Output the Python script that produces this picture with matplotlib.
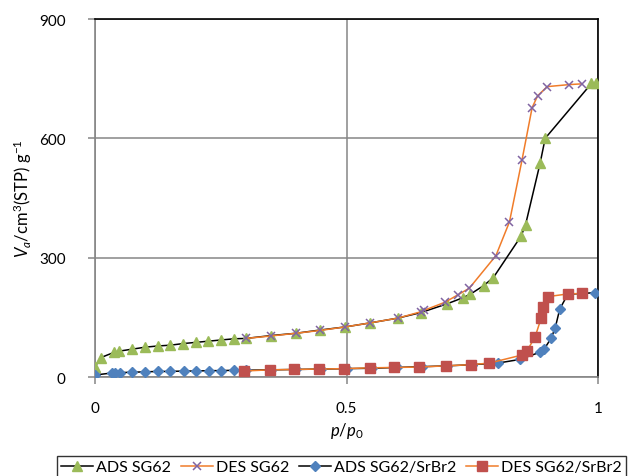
import matplotlib
matplotlib.use("Agg")
import matplotlib.pyplot as plt

plt.rcParams['font.family'] = ['Lato', 'DejaVu Sans']
plt.rcParams['mathtext.fontset'] = 'custom'
plt.rcParams['mathtext.rm'] = 'Lato'
plt.rcParams['mathtext.it'] = 'Lato:italic'

# ADS SG62
ads_x = [0.0, 0.012, 0.038, 0.048, 0.074, 0.1, 0.125, 0.15, 0.175, 0.2, 0.225, 0.25, 0.276,
         0.3, 0.349, 0.4, 0.447, 0.498, 0.547, 0.602, 0.648, 0.7, 0.731, 0.746, 0.773, 0.792,
         0.847, 0.856, 0.885, 0.895, 0.987, 0.996]
ads_y = [26, 49, 62, 65, 70, 75, 78, 80, 84, 87, 90, 93, 96,
         97, 104, 110, 118, 126, 136, 148, 162, 184, 199, 208, 230, 250,
         354, 383, 538, 600, 738, 740]

# DES SG62
des_x = [0.968, 0.942, 0.899, 0.88, 0.869, 0.849, 0.824, 0.797, 0.744, 0.722, 0.696, 0.655,
         0.648, 0.602, 0.547, 0.498, 0.447, 0.4, 0.349, 0.3]
des_y = [737, 735, 730, 707, 677, 546, 390, 305, 223, 207, 188, 168,
         164, 148, 136, 126, 117, 110, 103, 97]

# ADS SG62/SrBr2
ads2_x = [0.0, 0.033, 0.04, 0.05, 0.074, 0.1, 0.125, 0.15, 0.176, 0.2, 0.226, 0.25, 0.277,
          0.3, 0.35, 0.4, 0.45, 0.5, 0.55, 0.6, 0.65, 0.7, 0.75, 0.801, 0.844, 0.884, 0.893,
          0.907, 0.915, 0.924, 0.94, 0.994]
ads2_y = [5, 10, 10, 11, 12, 13, 14, 14, 15, 15, 16, 16, 17,
          17, 18, 19, 20, 21, 22, 24, 26, 28, 31, 35, 44, 62, 70,
          98, 124, 171, 208, 212]

# DES SG62/SrBr2
des2_x = [0.969, 0.941, 0.9, 0.891, 0.887, 0.875, 0.859, 0.848, 0.784, 0.748, 0.697, 0.645,
          0.595, 0.546, 0.495, 0.445, 0.396, 0.347, 0.296]
des2_y = [210, 209, 202, 175, 148, 101, 66, 55, 35, 31, 28, 25,
          24, 23, 21, 20, 19, 18, 15]

fig = plt.figure(figsize=(6.36, 4.77), dpi=100)
ax = fig.add_axes([95/636, 1-378/477, 503/636, 358/477])

ax.plot(ads_x, ads_y, color='black', lw=1.1, marker='^', ms=7,
        mfc='#9BBB59', mec='#9BBB59', label='ADS SG62', zorder=3)
ax.plot(des_x, des_y, color='#F07C2A', lw=1.1, marker='x', ms=6, mew=1.1,
        mec='#8064A2', label='DES SG62', zorder=4)
ax.plot(ads2_x, ads2_y, color='black', lw=1.1, marker='D', ms=5,
        mfc='#4F81BD', mec='#4F81BD', label='ADS SG62/SrBr2', zorder=3)
ax.plot(des2_x, des2_y, color='#F07C2A', lw=1.1, marker='s', ms=7,
        mfc='#C0504D', mec='#C0504D', label='DES SG62/SrBr2', zorder=4)

ax.set_xlim(0, 1)
ax.set_ylim(0, 900)
ax.set_xticks([0, 0.5, 1])
ax.set_xticklabels(['0', '0.5', '1'])
ax.set_yticks([0, 300, 600, 900])
ax.grid(True, color='#868686', lw=1.1)
ax.set_axisbelow(True)

for s in ['left', 'bottom']:
    ax.spines[s].set_color('#868686')
    ax.spines[s].set_linewidth(1.2)
for s in ['top', 'right']:
    ax.spines[s].set_color('black')
    ax.spines[s].set_linewidth(1.2)
ax.tick_params(axis='both', colors='#868686', labelcolor='black', labelsize=11,
               length=5, width=1.1, direction='out')
ax.tick_params(axis='x', pad=12)
ax.tick_params(axis='y', pad=16)

ax.set_xlabel(r'$p$/$p_{\mathrm{0}}$', fontsize=12, labelpad=4)
ax.set_ylabel(r'$V_a$/cm$^{\mathrm{3}}$(STP) g$^{\mathrm{-1}}$', fontsize=12, labelpad=4)

fig.legend(loc='upper left', bbox_to_anchor=(57/636, 1-457/477), ncol=4,
           frameon=True, fancybox=False, edgecolor='black', fontsize=11.5,
           handlelength=2.0, handletextpad=0.2, columnspacing=0.6,
           borderpad=0.25, borderaxespad=0)

fig.savefig('out.png', dpi=100)
